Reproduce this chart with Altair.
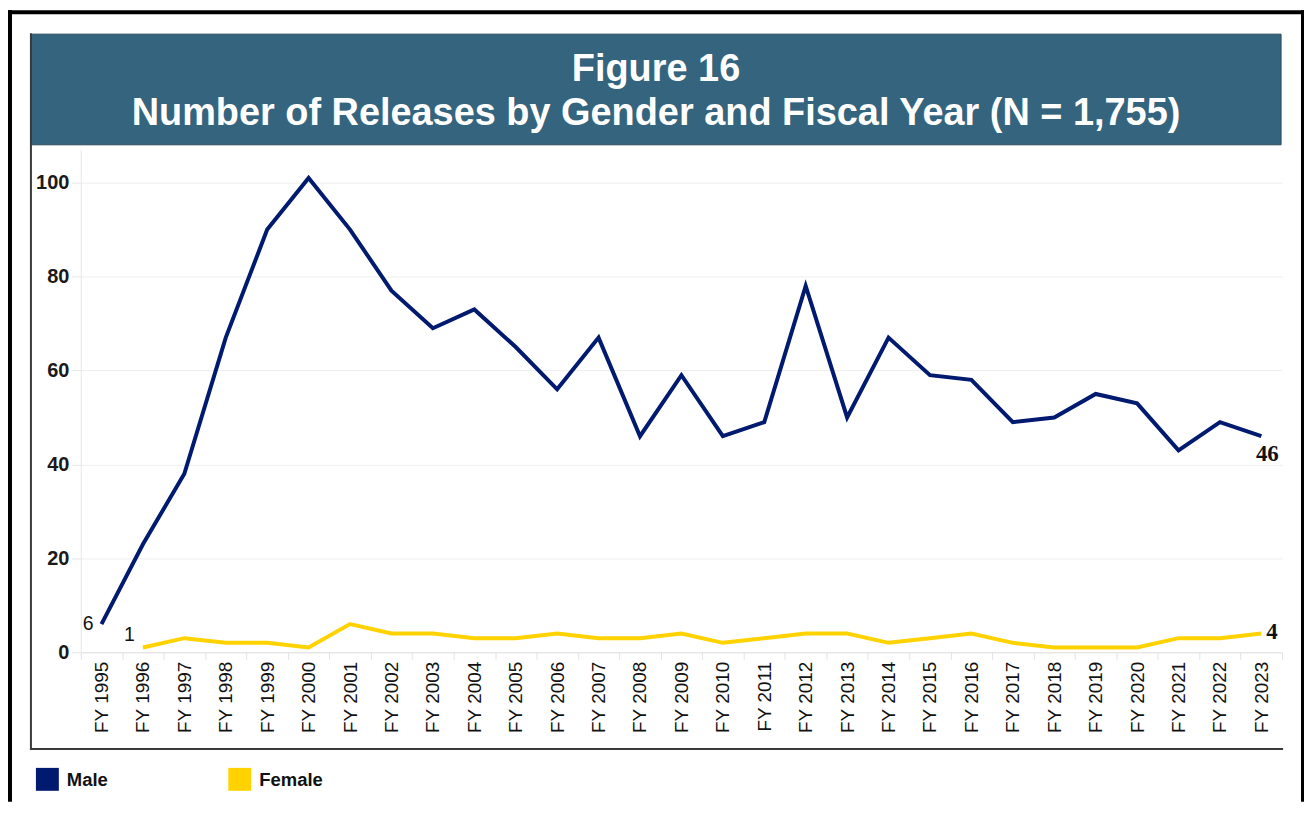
import altair as alt
import pandas as pd

# ---------------- data ----------------
years = ["FY 1995", "FY 1996", "FY 1997", "FY 1998", "FY 1999", "FY 2000", "FY 2001",
         "FY 2002", "FY 2003", "FY 2004", "FY 2005", "FY 2006", "FY 2007", "FY 2008",
         "FY 2009", "FY 2010", "FY 2011", "FY 2012", "FY 2013", "FY 2014", "FY 2015",
         "FY 2016", "FY 2017", "FY 2018", "FY 2019", "FY 2020", "FY 2021", "FY 2022",
         "FY 2023"]
male = [6, 23, 38, 67, 90, 101, 90, 77, 69, 73, 65, 56, 67, 46, 59, 46, 49, 78, 50,
        67, 59, 58, 49, 50, 55, 53, 43, 49, 46]
female = [None, 1, 3, 2, 2, 1, 6, 4, 4, 3, 3, 4, 3, 3, 4, 2, 3, 4, 4, 2, 3, 4, 2,
          1, 1, 1, 3, 3, 4]
series_names = ["Male", "Female"]
series_colors = ["#001A70", "#FFD200"]
y_ticks = [0, 20, 40, 60, 80, 100]
title_lines = ["Figure 16", "Number of Releases by Gender and Fiscal Year (N = 1,755)"]

rows = []
for yr, m, f in zip(years, male, female):
    rows.append({"year": yr, "series": "Male", "value": m})
    if f is not None:
        rows.append({"year": yr, "series": "Female", "value": f})
df = pd.DataFrame(rows)

BAND = "#35647E"
W, H = 1205, 504

xenc = alt.X(
    "year:N", sort=years, title=None,
    scale=alt.Scale(type="band", paddingInner=0, paddingOuter=0),
    bandPosition=0.5,
    axis=alt.Axis(
        labelAngle=270, tickBand="extent", labelFont="Liberation Sans",
        labelFontSize=19, labelColor="#111111", labelPadding=2, tickSize=7,
        tickColor="#E2E2E2", domainColor="#E2E2E2", grid=False,
    ),
)
yenc = alt.Y(
    "value:Q", title=None,
    scale=alt.Scale(domain=[0, 107], nice=False),
    axis=alt.Axis(
        values=y_ticks, labelFont="Liberation Sans", labelFontWeight="bold",
        labelFontSize=20, labelColor="#1A1A1A", labelPadding=3, tickSize=9,
        tickColor="#E6E6E6", domainColor="#E6E6E6", gridColor="#EEEEEE",
    ),
)
color = alt.Color("series:N", scale=alt.Scale(domain=series_names, range=series_colors),
                  legend=None)

lines = alt.Chart(df).mark_line(strokeWidth=4, strokeJoin="miter").encode(
    x=xenc, y=yenc, color=color, detail="series:N"
)

# end / start labels
first_m = pd.DataFrame([{"year": years[0], "value": male[0], "lab": str(male[0])}])
first_f = pd.DataFrame([{"year": years[1], "value": female[1], "lab": str(female[1])}])
last_m = pd.DataFrame([{"year": years[-1], "value": male[-1], "lab": str(male[-1])}])
last_f = pd.DataFrame([{"year": years[-1], "value": female[-1], "lab": str(female[-1])}])

def lab(d, **kw):
    return alt.Chart(d).mark_text(color="#111111", **kw).encode(
        x=alt.X("year:N", sort=years, bandPosition=0.5),
        y=alt.Y("value:Q"), text="lab:N")

lab1 = lab(first_m, align="right", baseline="middle", dx=-8, dy=0,
           font="Liberation Sans", fontSize=19.5)
lab2 = lab(first_f, align="right", baseline="middle", dx=-8, dy=-13,
           font="Liberation Sans", fontSize=19.5)
lab3 = lab(last_m, align="center", baseline="top", dx=6, dy=7,
           font="Liberation Serif", fontWeight="bold", fontSize=23)
lab4 = lab(last_f, align="left", baseline="middle", dx=5, dy=-1,
           font="Liberation Serif", fontWeight="bold", fontSize=23)

one = pd.DataFrame({"k": [0]})

def rect(x1, x2, y1, y2, fill, **kw):
    return alt.Chart(one).mark_rect(fill=fill, **kw).encode(
        x=alt.value(x1), x2=alt.value(x2), y=alt.value(y1), y2=alt.value(y2))

# frames and title band (plot coordinates: page x - 81, page y - 149)
outer_left = rect(-73, -69, -140, 654, "#000000")
outer_top = rect(-73, 1227, -140, -136, "#000000")
outer_right = rect(1224, 1227, -140, 654, "#000000")
inner_left = rect(-51, -49, -117, 602, "#3A3A3A")
inner_bottom = rect(-51, 1206, 600, 602, "#3A3A3A")
band = rect(-50, 1204, -116, -5, BAND, stroke="#2A4A5C", strokeWidth=1)

tdf = pd.DataFrame({"t": title_lines})
title1 = alt.Chart(tdf).transform_filter(alt.datum.t == title_lines[0]).mark_text(
    font="Liberation Sans", fontWeight="bold", fontSize=38, color="white",
    align="center", baseline="alphabetic").encode(
    x=alt.value(577), y=alt.value(-69), text="t:N")
title2 = alt.Chart(tdf).transform_filter(alt.datum.t == title_lines[1]).mark_text(
    font="Liberation Sans", fontWeight="bold", fontSize=38, color="white",
    align="center", baseline="alphabetic").encode(
    x=alt.value(577), y=alt.value(-25), text="t:N")

# legend
leg = []
for name, col, x0 in zip(series_names, series_colors, [-45, 148]):
    leg.append(rect(x0, x0 + 23, 620, 643, col))
    leg.append(alt.Chart(one).mark_text(
        text=name, font="Liberation Sans", fontWeight="bold", fontSize=18.5,
        color="#111111", align="left", baseline="alphabetic").encode(
        x=alt.value(x0 + 31), y=alt.value(638)))

chart = alt.layer(
    outer_left, outer_top, outer_right, band, inner_left, inner_bottom,
    title1, title2, lines, lab1, lab2, lab3, lab4, *leg
).properties(
    width=W, height=H,
    autosize=alt.AutoSizeParams(type="none"),
    padding={"left": 73, "top": 141, "right": 22, "bottom": 150},
    background="white",
).configure_view(stroke=None)

chart.save("out.html", embed_options={"renderer": "svg", "actions": False})
